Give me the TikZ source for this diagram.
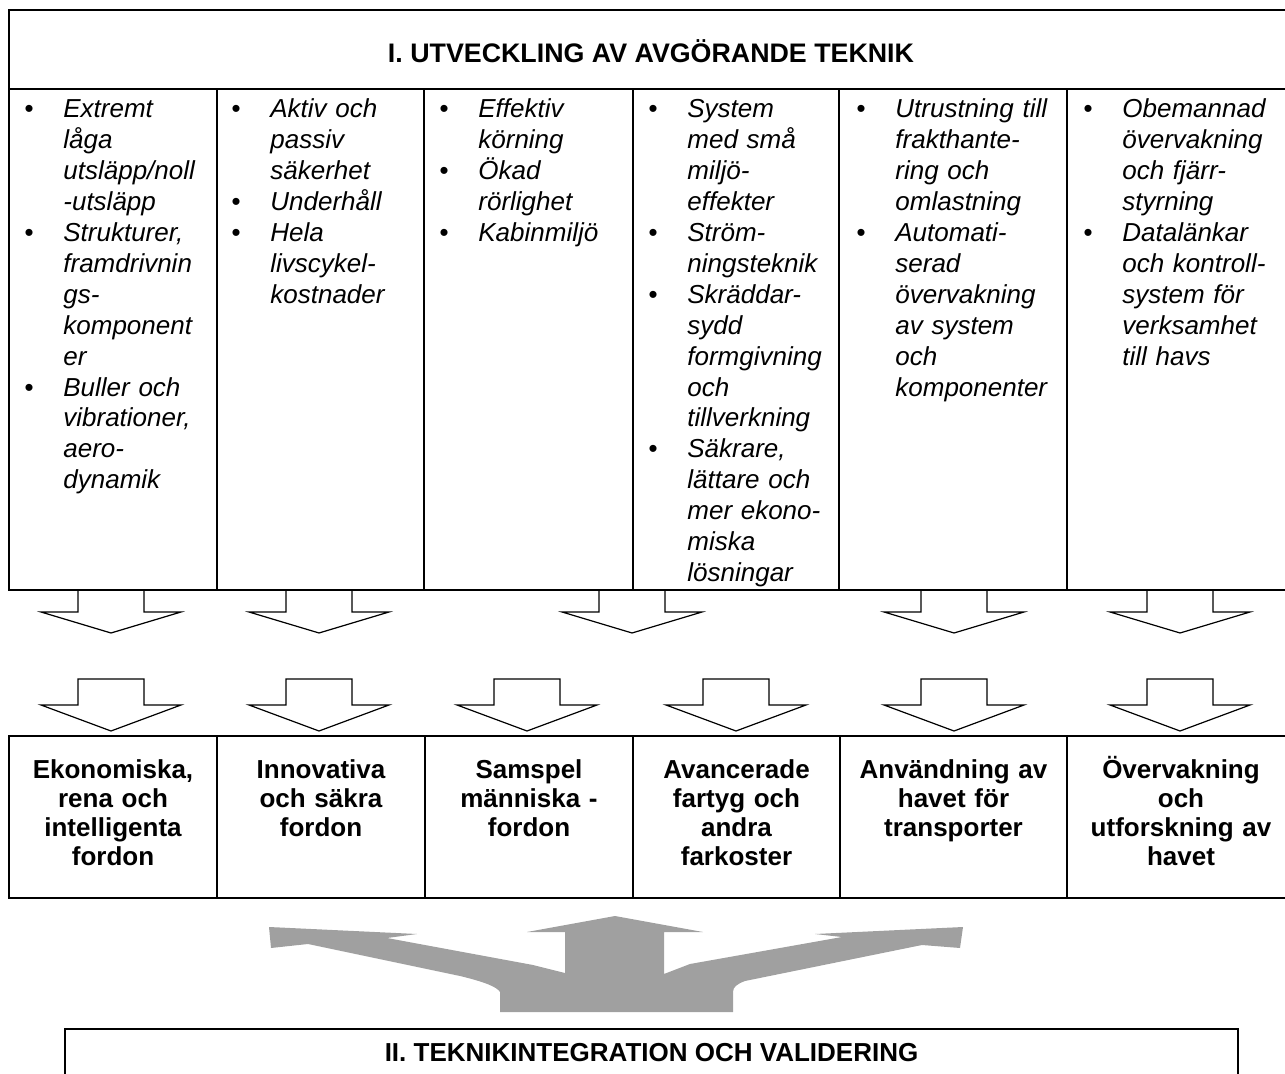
\documentclass[tikz,border=0pt]{standalone}
\usepackage{fontspec}
\setmainfont{Liberation Sans}
\usetikzlibrary{positioning}
\definecolor{pilgra}{RGB}{160,160,160}
\newcommand{\pkt}{\makebox[0pt][r]{\textbullet\hspace{15pt}}}
\tikzset{pics/blockpil/.style 2 args={code={%
  \draw[pilkant] (-33,0) -- (33,0) -- (33,#1) -- (70,#1) -- (0,#2) -- (-70,#1) -- (-33,#1) -- cycle;}}}

\begin{document}
\begin{tikzpicture}[x=0.5pt, y=-0.5pt,
        cell/.style={rectangle, draw, line width=1pt, inner sep=0pt, outer sep=0pt, minimum height=250.5pt},
        mal/.style={rectangle, draw, line width=1pt, inner sep=0pt, outer sep=0pt, minimum height=81pt},
        lista/.style={anchor=base west, inner sep=0pt, text width=92pt, align=left, font=\fontsize{13}{15.45}\selectfont\itshape},
        maltext/.style={anchor=base, inner sep=0pt, text width=110pt, align=center, font=\fontsize{13}{14.6}\selectfont\bfseries},
        rubrik/.style={anchor=base, inner sep=0pt, font=\fontsize{13.4}{15}\selectfont\bfseries},
        pilkant/.style={draw, line width=0.6pt, fill=white},
        gra/.style={fill=pilgra}
    ]
        \useasboundingbox (0,0) rectangle (1285,1074);
        \clip (0,0) rectangle (1285,1074);

        % Pilar mellan tabellerna
        \pic at (111,590) {blockpil={22}{43}};
        \pic at (319,590) {blockpil={22}{43}};
        \pic at (632,590) {blockpil={22}{43}};
        \pic at (954,590) {blockpil={22}{43}};
        \pic at (1180,590) {blockpil={22}{43}};
        \pic at (111,679) {blockpil={26}{52}};
        \pic at (319,679) {blockpil={26}{52}};
        \pic at (527,679) {blockpil={26}{52}};
        \pic at (736,679) {blockpil={26}{52}};
        \pic at (954,679) {blockpil={26}{52}};
        \pic at (1180,679) {blockpil={26}{52}};

        % I. Teknik
        \node[rectangle, draw, line width=1pt, inner sep=0pt, outer sep=0pt, anchor=north west,
              minimum width=643pt, minimum height=39.5pt] (huvud) at (9,10) {};
        \node[rubrik] (huvudtext) at (651,63) {I. UTVECKLING AV AVGÖRANDE TEKNIK};

        \node[cell, anchor=north west, minimum width=104pt] (c1) at (huvud.south west) {};
        \node[cell, right=0pt of c1, minimum width=103.5pt] (c2) {};
        \node[cell, right=0pt of c2, minimum width=104.5pt] (c3) {};
        \node[cell, right=0pt of c3, minimum width=103pt] (c4) {};
        \node[cell, right=0pt of c4, minimum width=114pt] (c5) {};
        \node[cell, right=0pt of c5, minimum width=114pt] (c6) {};

        \node[lista] (t1) at (63,118) {\pkt Extremt\\låga\\utsläpp/noll\\-utsläpp\\\pkt Strukturer,\\framdrivnin\\gs-\\komponent\\er\\\pkt Buller och\\vibrationer,\\aero-\\dynamik};
        \node[lista] (t2) at (270,118) {\pkt Aktiv och\\passiv\\säkerhet\\\pkt Underhåll\\\pkt Hela\\livscykel-\\kostnader};
        \node[lista] (t3) at (478,118) {\pkt Effektiv\\körning\\\pkt Ökad\\rörlighet\\\pkt Kabinmiljö};
        \node[lista] (t4) at (687,118) {\pkt System\\med små\\miljö-\\effekter\\\pkt Ström-\\ningsteknik\\\pkt Skräddar-\\sydd\\formgivning\\och\\tillverkning\\\pkt Säkrare,\\lättare och\\mer ekono-\\miska\\lösningar};
        \node[lista] (t5) at (895,118) {\pkt Utrustning till\\frakthante-\\ring och\\omlastning\\\pkt Automati-\\serad\\övervakning\\av system\\och\\komponenter};
        \node[lista] (t6) at (1122,118) {\pkt Obemannad\\övervakning\\och fjärr-\\styrning\\\pkt Datalänkar\\och kontroll-\\system för\\verksamhet\\till havs};

        % Mål
        \node[mal, anchor=north west, minimum width=104pt] (g1) at (9,736) {};
        \node[mal, right=0pt of g1, minimum width=104pt] (g2) {};
        \node[mal, right=0pt of g2, minimum width=104pt] (g3) {};
        \node[mal, right=0pt of g3, minimum width=103.5pt] (g4) {};
        \node[mal, right=0pt of g4, minimum width=113.5pt] (g5) {};
        \node[mal, right=0pt of g5, minimum width=114pt] (g6) {};

        \node[maltext] (m1) at ([yshift=-21pt]g1.north) {Ekonomiska,\\rena och\\intelligenta\\fordon};
        \node[maltext] (m2) at ([yshift=-21pt]g2.north) {Innovativa\\och säkra\\fordon};
        \node[maltext] (m3) at ([yshift=-21pt]g3.north) {Samspel\\människa -\\fordon};
        \node[maltext] (m4) at ([yshift=-21pt]g4.north) {Avancerade\\fartyg och\\andra\\farkoster};
        \node[maltext] (m5) at ([yshift=-21pt]g5.north) {Användning av\\havet för\\transporter};
        \node[maltext] (m6) at ([yshift=-21pt]g6.north) {Övervakning\\och\\utforskning av\\havet};

        % Grå pil
        \fill[gra] (615,916) -- (703,932) -- (664,932) -- (664,974) -- (690,964) -- (842,937)
            -- (815,934) -- (963,927) -- (960,948) -- (922,945) -- (745,981)
            .. controls (737,984) and (733,987) .. (733,992) -- (733,1012) -- (500,1012) -- (500,992)
            .. controls (497,987) and (485,982) .. (460,976) -- (308,944) -- (271,948) -- (269,927)
            -- (417,934) -- (387,938) -- (533,965) -- (565,973) -- (565,932) -- (527,932) -- cycle;

        % II. Integration
        \node[rectangle, draw, line width=1pt, inner sep=0pt, outer sep=0pt, anchor=north west,
              minimum width=586.5pt, minimum height=40pt] (integ) at (65,1029) {};
        \node[rubrik, font=\fontsize{13}{15}\selectfont\bfseries] (integtext) at (651.5,1061) {II. TEKNIKINTEGRATION OCH VALIDERING};
    \end{tikzpicture}
\end{document}
